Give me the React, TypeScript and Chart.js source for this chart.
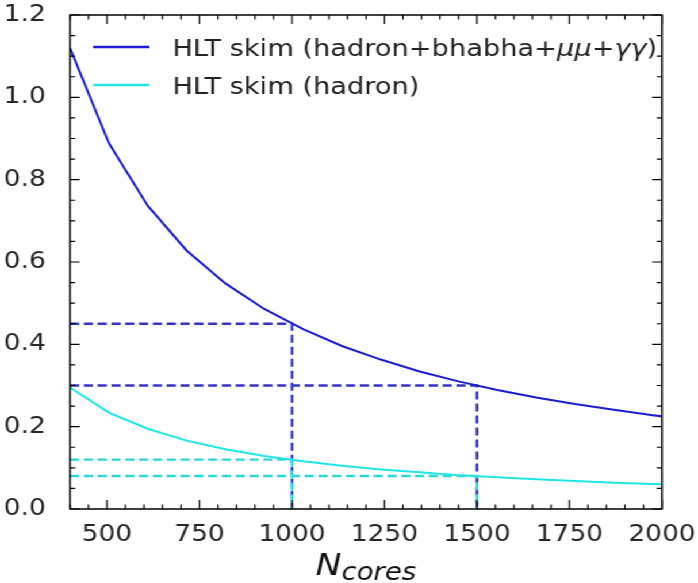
import React, { useEffect, useRef } from 'react';
import { Chart, registerables } from 'chart.js';

Chart.register(...registerables);

// ---- data ----
const cores = [400, 505, 610, 715, 820, 925, 1030, 1135, 1240, 1345, 1450, 1555, 1660, 1765, 1870, 1975, 2080];
const hltAll = [1.12, 0.889, 0.737, 0.628, 0.548, 0.486, 0.437, 0.396, 0.363, 0.334, 0.31, 0.289, 0.271, 0.255, 0.241, 0.228, 0.216];
const hltHadron = [0.295, 0.234, 0.195, 0.166, 0.145, 0.129, 0.116, 0.105, 0.096, 0.089, 0.082, 0.077, 0.072, 0.068, 0.064, 0.061, 0.058];
const markerCores = [1000, 1500];
const markerAll = [0.45, 0.3];
const markerHadron = [0.12, 0.08];
const xTickValues = [500, 750, 1000, 1250, 1500, 1750, 2000];
const yTickValues = [0, 0.2, 0.4, 0.6, 0.8, 1.0, 1.2];
const legendLabels = ['HLT skim (hadron+bhabha+μμ+γγ)', 'HLT skim (hadron)'];

const W = 607;
const H = 583;
const SX = 698 / W;
const FONT = '"DejaVu Sans", sans-serif';
const BLUE = '#1c1cd6';
const CYAN = '#22e6e6';
const BLUE_D = '#3434c8';
const CYAN_D = '#2ed6d6';

const framePlugin = {
  id: 'frame',
  afterDraw(chart: any) {
    const { ctx, chartArea, scales } = chart;
    const { left, right, top, bottom } = chartArea;
    const x = scales.x;
    const y = scales.y;
    ctx.save();
    ctx.strokeStyle = '#000';
    ctx.lineWidth = 1.5;
    ctx.strokeRect(left, top, right - left, bottom - top);
    ctx.lineWidth = 1.2;
    for (let v = 400; v <= 2000; v += 50) {
      const px = x.getPixelForValue(v);
      const len = v % 250 === 0 ? 9 : 4.5;
      ctx.beginPath();
      ctx.moveTo(px, bottom);
      ctx.lineTo(px, bottom - len);
      ctx.moveTo(px, top);
      ctx.lineTo(px, top + len);
      ctx.stroke();
    }
    for (let i = 0; i <= 24; i++) {
      const py = y.getPixelForValue(i * 0.05);
      const len = i % 4 === 0 ? 8.5 : 4.5;
      ctx.beginPath();
      ctx.moveTo(left, py);
      ctx.lineTo(left + len, py);
      ctx.moveTo(right, py);
      ctx.lineTo(right - len, py);
      ctx.stroke();
    }

    // legend
    const rows = [
      { color: BLUE, y: 47, label: legendLabels[0] },
      { color: CYAN, y: 85, label: legendLabels[1] },
    ];
    ctx.textBaseline = 'alphabetic';
    ctx.fillStyle = '#222';
    rows.forEach((r) => {
      ctx.strokeStyle = r.color;
      ctx.lineWidth = 2.5;
      ctx.beginPath();
      ctx.moveTo(81, r.y);
      ctx.lineTo(130, r.y);
      ctx.stroke();
      const parts = r.label.split(/([μγ]+)/).filter((s) => s.length > 0);
      let cx = 150;
      parts.forEach((p) => {
        const italic = /[μγ]/.test(p);
        ctx.font = (italic ? 'italic ' : '') + '23.7px ' + FONT;
        ctx.fillText(p, cx, r.y + 8.5);
        cx += ctx.measureText(p).width;
      });
    });

    // x axis title N_cores
    ctx.fillStyle = '#111';
    ctx.font = 'italic 30px ' + FONT;
    const wN = ctx.measureText('N').width;
    ctx.font = 'italic 24px ' + FONT;
    const wC = ctx.measureText('cores').width;
    const center = (left + right) / 2;
    const start = center - (wN + wC) / 2;
    ctx.font = 'italic 30px ' + FONT;
    ctx.fillText('N', start, 575);
    ctx.font = 'italic 24px ' + FONT;
    ctx.fillText('cores', start + wN, 580);
    ctx.restore();
  },
};

export default function App() {
  const ref = useRef<HTMLCanvasElement | null>(null);

  useEffect(() => {
    const canvas = ref.current;
    if (!canvas) return;
    const blueDashed = markerCores.map((c, i) => ({
      type: 'line' as const,
      data: [
        { x: 400, y: markerAll[i] },
        { x: c, y: markerAll[i] },
        { x: c, y: 0 },
      ],
      borderColor: BLUE_D,
      borderWidth: 2.4,
      borderDash: [8, 4],
      pointRadius: 0,
      tension: 0,
      order: 4,
    }));
    const cyanDashed = markerCores.map((c, i) => ({
      type: 'line' as const,
      data: [
        { x: 400, y: markerHadron[i] },
        { x: c, y: markerHadron[i] },
        { x: c, y: 0 },
      ],
      borderColor: CYAN_D,
      borderWidth: 2.4,
      borderDash: [8, 4],
      pointRadius: 0,
      tension: 0,
      order: 3,
    }));
    const chart = new Chart(canvas, {
      type: 'line',
      data: {
        datasets: [
          {
            label: legendLabels[0],
            data: cores.map((c, i) => ({ x: c, y: hltAll[i] })),
            borderColor: BLUE,
            borderWidth: 2,
            pointRadius: 0,
            tension: 0,
            order: 1,
          },
          {
            label: legendLabels[1],
            data: cores.map((c, i) => ({ x: c, y: hltHadron[i] })),
            borderColor: CYAN,
            borderWidth: 2,
            pointRadius: 0,
            tension: 0,
            order: 2,
          },
          ...blueDashed,
          ...cyanDashed,
        ] as any,
      },
      options: {
        animation: false,
        responsive: false,
        devicePixelRatio: 1,
        layout: { padding: { left: 0, right: W - 575.65, top: 15, bottom: 0 } },
        plugins: { legend: { display: false }, tooltip: { enabled: false } },
        scales: {
          x: {
            type: 'linear',
            min: 400,
            max: 2000,
            grid: { display: false },
            border: { display: false },
            afterBuildTicks: (s: any) => {
              s.ticks = xTickValues.map((v) => ({ value: v }));
            },
            afterFit: (s: any) => {
              s.height = H - 509;
              s.paddingLeft = 0;
              s.paddingRight = 0;
            },
            ticks: {
              padding: 4,
              color: '#262626',
              font: { family: FONT, size: 23 },
              callback: (v: any) => String(v),
              maxRotation: 0,
              autoSkip: false,
            },
          },
          y: {
            type: 'linear',
            min: 0,
            max: 1.2,
            grid: { display: false },
            border: { display: false },
            afterBuildTicks: (s: any) => {
              s.ticks = yTickValues.map((v) => ({ value: v }));
            },
            afterFit: (s: any) => {
              s.width = 60.87;
              s.paddingTop = 0;
              s.paddingBottom = 0;
            },
            ticks: {
              padding: 13,
              color: '#262626',
              font: { family: FONT, size: 23 },
              callback: (v: any) => Number(v).toFixed(1),
              autoSkip: false,
            },
          },
        },
      },
      plugins: [framePlugin],
    } as any);
    return () => chart.destroy();
  }, []);

  return (
    <div
      style={{
        position: 'fixed',
        left: 0,
        top: 0,
        width: W,
        height: H,
        background: '#fff',
        transform: `scaleX(${SX})`,
        transformOrigin: '0 0',
      }}
    >
      <canvas ref={ref} width={W} height={H} style={{ width: W, height: H, display: 'block' }} />
    </div>
  );
}
